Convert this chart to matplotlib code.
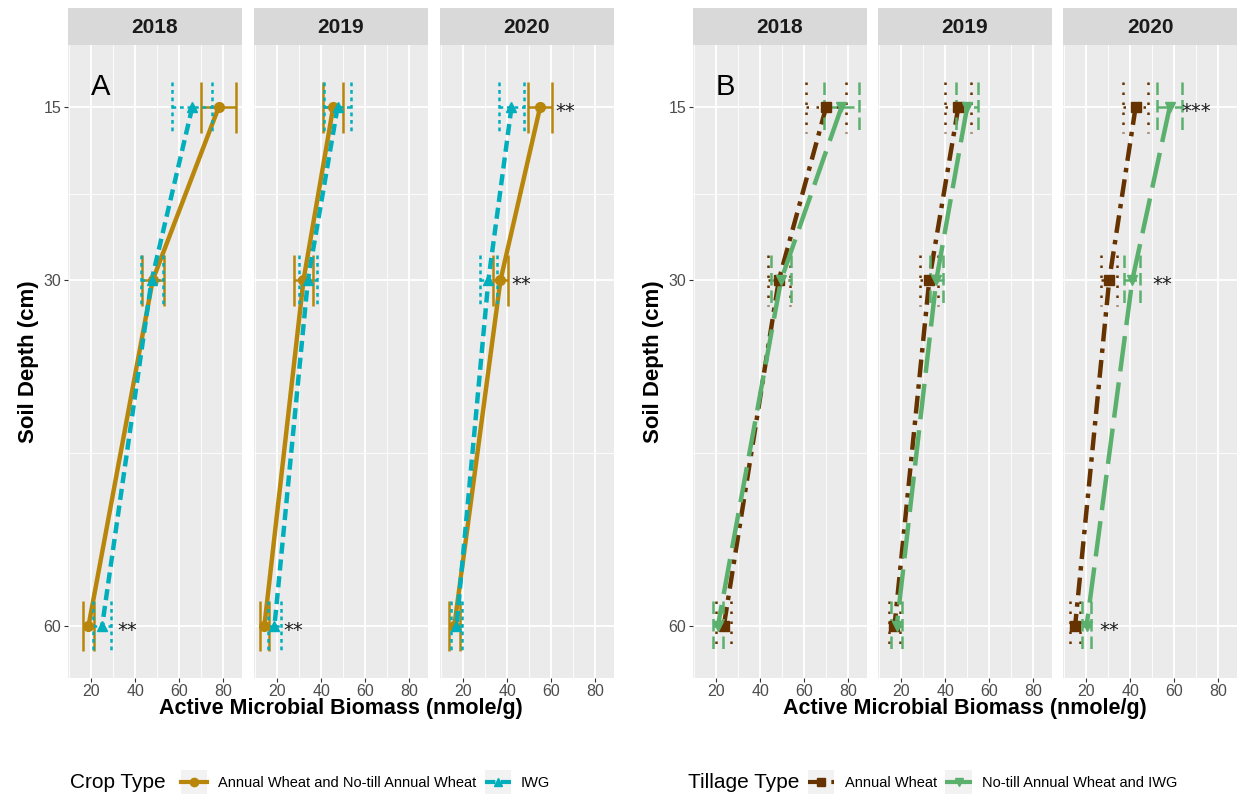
import numpy as np
import matplotlib.pyplot as plt
from matplotlib.lines import Line2D
from matplotlib.patches import Rectangle
from matplotlib.legend_handler import HandlerLine2D

plt.rcParams["font.family"] = ["Liberation Sans", "DejaVu Sans"]

# ---- data -------------------------------------------------------------
years = ["2018", "2019", "2020"]
depth = [15, 30, 60]

# panel A: crop type (mean and standard error per year, per depth)
crop_annual_mean = [[78.0, 48.0, 18.8], [45.5, 32.0, 14.2], [55.0, 37.0, 16.0]]
crop_annual_err = [[8.0, 5.0, 2.7], [4.5, 4.5, 2.0], [5.5, 3.5, 2.5]]
crop_iwg_mean = [[66.0, 47.5, 25.0], [47.5, 34.0, 18.8], [42.0, 31.5, 17.0]]
crop_iwg_err = [[9.0, 5.0, 4.0], [6.0, 4.0, 2.8], [5.5, 4.0, 2.3]]

# panel B: tillage type
till_annual_mean = [[70.0, 48.5, 23.5], [46.0, 32.8, 17.0], [42.5, 30.5, 15.0]]
till_annual_err = [[9.0, 5.0, 3.5], [6.0, 4.0, 2.5], [5.5, 3.5, 2.4]]
till_notill_mean = [[77.0, 49.5, 20.8], [50.0, 36.0, 18.0], [58.0, 41.0, 20.2]]
till_notill_err = [[8.0, 4.5, 2.4], [5.0, 3.0, 2.5], [5.7, 3.6, 2.0]]

# significance marks: (year index, depth, label, x position)
crop_sig = [(0, 60, "**", 32.0), (1, 60, "**", 22.7), (2, 15, "**", 62.0), (2, 30, "**", 42.0)]
till_sig = [(2, 15, "***", 63.5), (2, 30, "**", 50.0), (2, 60, "**", 26.0)]

crop_labels = ["Annual Wheat and No-till Annual Wheat", "IWG"]
till_labels = ["Annual Wheat", "No-till Annual Wheat and IWG"]

# ---- styles -----------------------------------------------------------
GOLD, CYAN = "#B8860B", "#00AFBB"
BROWN, GREEN = "#663300", "#5BB06E"

crop_styles = [
    dict(color=GOLD, ls="-", err_ls="-", marker="o"),
    dict(color=CYAN, ls=(0, (2.5, 1.3)), err_ls=(0, (1.5, 1.5)), marker="^"),
]
till_styles = [
    dict(color=BROWN, ls=(0, (4, 1.6, 1, 1.6)), err_ls=(0, (1, 3)), marker="s"),
    dict(color=GREEN, ls=(0, (8, 2.5)), err_ls=(0, (5, 2)), marker="v"),
]

W, H = 1247, 796
fig = plt.figure(figsize=(W / 100, H / 100), dpi=100)


def px_axes(x0, y0, w, h):
    return fig.add_axes([x0 / W, 1 - (y0 + h) / H, w / W, h / H])


def draw_series(ax, mean, err, st):
    ax.plot(mean, depth, color=st["color"], lw=3.2, ls=st["ls"],
            solid_capstyle="butt", dash_capstyle="butt", zorder=3)
    ax.plot(mean, depth, color=st["color"], ls="none", marker=st["marker"],
            ms=7, zorder=4)
    m = np.array(mean)
    e = np.array(err)
    ax.hlines(depth, m - e, m + e, color=st["color"], lw=1.8, ls=st["err_ls"], zorder=3)
    for d, lo, hi in zip(depth, m - e, m + e):
        ax.vlines([lo, hi], d - 2.2, d + 2.2, color=st["color"], lw=1.8,
                  ls=st["err_ls"], zorder=3)


def draw_panel(x_starts, means, errs, styles, sigs, letter):
    axes = []
    for i, x0 in enumerate(x_starts):
        ax = px_axes(x0, 45, 174, 633)
        ax.set_facecolor("#EBEBEB")
        ax.set_xlim(9.5, 88.6)
        ax.set_ylim(64.5, 9.6)
        ax.set_xticks([20, 40, 60, 80])
        ax.set_xticks([10, 30, 50, 70], minor=True)
        ax.set_yticks(depth)
        ax.set_yticks([22.5, 45], minor=True)
        ax.grid(True, which="major", color="white", lw=1.3)
        ax.grid(True, which="minor", color="white", lw=0.6)
        ax.set_axisbelow(True)
        for s in ax.spines.values():
            s.set_visible(False)
        ax.tick_params(axis="x", which="major", length=3, color="#333333",
                       labelsize=11.5, labelcolor="#4D4D4D", pad=1)
        ax.tick_params(which="minor", length=0)
        if i == 0:
            ax.tick_params(axis="y", which="major", length=3, color="#333333",
                           labelsize=11.5, labelcolor="#4D4D4D", pad=2)
            ax.set_ylabel("Soil Depth (cm)", fontsize=16, fontweight="bold", labelpad=3)
        else:
            ax.tick_params(axis="y", which="major", length=0, labelleft=False)

        for mean, err, st in zip(means, errs, styles):
            draw_series(ax, mean[i], err[i], st)

        for yi, d, lab, x in sigs:
            if yi == i:
                ax.text(x, d + 0.4, lab, fontsize=14, va="center", ha="left",
                        color="#1A1A1A", family="DejaVu Sans")

        strip = px_axes(x0, 8, 174, 37)
        strip.set_facecolor("#D9D9D9")
        strip.set_xticks([])
        strip.set_yticks([])
        for s in strip.spines.values():
            s.set_visible(False)
        strip.text(0.5, 0.48, years[i], ha="center", va="center",
                   fontsize=15, fontweight="bold", color="#1A1A1A")
        axes.append(ax)

    axes[0].text(0.13, 0.955, letter, transform=axes[0].transAxes, fontsize=21,
                 va="top", ha="left", color="black")
    mid = (x_starts[0] + x_starts[-1] + 174) / 2
    fig.text(mid / W, 1 - 698 / H, "Active Microbial Biomass (nmole/g)",
             ha="center", va="top", fontsize=15.5, fontweight="bold")
    return axes


draw_panel([68, 254, 440], [crop_annual_mean, crop_iwg_mean],
           [crop_annual_err, crop_iwg_err], crop_styles, crop_sig, "A")
draw_panel([693, 878, 1063], [till_annual_mean, till_notill_mean],
           [till_annual_err, till_notill_err], till_styles, till_sig, "B")


class KeyHandler(HandlerLine2D):
    # legend key drawn on a light grey square, like ggplot keys
    def create_artists(self, legend, orig_handle, xdescent, ydescent,
                       width, height, fontsize, trans):
        bg = Rectangle((-xdescent, -ydescent - 0.7 * height), width, height * 2.4,
                       fc="#F2F2F2", ec="none", transform=trans)
        arts = super().create_artists(legend, orig_handle, xdescent, ydescent,
                                      width, height, fontsize, trans)
        return [bg] + arts


def add_legend(title, title_x, labels, styles, leg_x):
    fig.text(title_x / W, 1 - 783 / H, title, fontsize=15, va="center", ha="left")
    handles = [Line2D([], [], color=st["color"], lw=3, ls=st["ls"],
                      marker=st["marker"], ms=6) for st in styles]
    fig.legend(handles, labels, loc="center left", ncol=2, frameon=False,
               bbox_to_anchor=(leg_x / W, 1 - 783 / H), fontsize=10.5,
               handlelength=1.8, handletextpad=0.7, columnspacing=0.6,
               handler_map={Line2D: KeyHandler()})


add_legend("Crop Type", 70, crop_labels, crop_styles, 168)
add_legend("Tillage Type", 688, till_labels, till_styles, 795)

fig.savefig("out.png", dpi=100)
